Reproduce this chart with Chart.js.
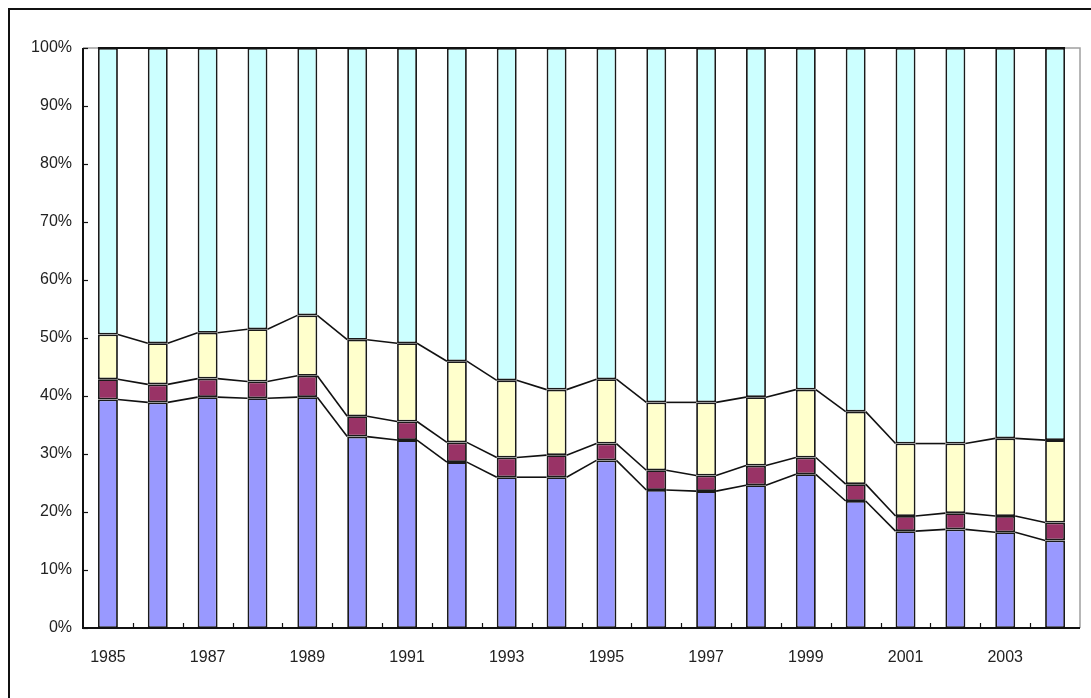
<!DOCTYPE html>
<html>
<head>
<meta charset="utf-8">
<script src="https://cdn.jsdelivr.net/npm/chart.js@4/dist/chart.umd.min.js"></script>
<style>
  html, body { margin: 0; padding: 0; background: #fff; }
  #wrap { position: relative; width: 1091px; height: 698px; overflow: hidden; }
  #frame { position: absolute; left: 8px; top: 8px; width: 1200px; height: 800px;
           border-left: 2px solid #111; border-top: 2px solid #111; }
  canvas { position: absolute; left: 0; top: 0; }
</style>
</head>
<body>
<div id="wrap">
  <div id="frame"></div>
  <canvas id="shareChart" width="1091" height="698"></canvas>
</div>
<script>
const years = ["1985", "1986", "1987", "1988", "1989", "1990", "1991", "1992", "1993", "1994",
               "1995", "1996", "1997", "1998", "1999", "2000", "2001", "2002", "2003", "2004"];

// share of each component, % of total (bottom to top)
const blueShare   = [39.4, 38.9, 39.8, 39.6, 39.8, 33.0, 32.4, 28.6, 26.0, 26.0,
                     28.9, 23.8, 23.6, 24.6, 26.5, 21.9, 16.7, 17.0, 16.5, 15.1];
const maroonShare = [3.5, 3.1, 3.2, 2.9, 3.7, 3.5, 3.2, 3.4, 3.4, 3.8,
                     2.9, 3.4, 2.7, 3.4, 2.9, 2.9, 2.6, 2.8, 2.8, 3.1];
const yellowShare = [7.7, 7.1, 7.9, 9.0, 10.4, 13.2, 13.5, 14.0, 13.3, 11.3,
                     11.1, 11.7, 12.6, 11.8, 11.7, 12.5, 12.5, 12.0, 13.4, 14.2];
const cyanShare   = [49.4, 50.9, 49.1, 48.5, 46.1, 50.3, 50.9, 54.0, 57.3, 58.9,
                     57.1, 61.1, 61.1, 60.2, 58.9, 62.7, 68.2, 68.2, 67.3, 67.6];

const yTicks = [0, 10, 20, 30, 40, 50, 60, 70, 80, 90, 100];

// excel style series lines between bar tops + inward tick marks
const seriesLines = {
  id: "seriesLines",
  afterDatasetsDraw(chart) {
    const ctx = chart.ctx;
    ctx.save();
    ctx.strokeStyle = "#111";
    ctx.lineWidth = 1.6;
    chart.data.datasets.forEach((ds, di) => {
      const bars = chart.getDatasetMeta(di).data;
      for (let i = 0; i < bars.length - 1; i++) {
        const a = bars[i], b = bars[i + 1];
        ctx.beginPath();
        ctx.moveTo(a.x + a.width / 2, a.y);
        ctx.lineTo(b.x - b.width / 2, b.y);
        ctx.stroke();
      }
    });
    ctx.restore();
  },
  afterDraw(chart) {
    const ctx = chart.ctx;
    const area = chart.chartArea;
    const x = chart.scales.x, y = chart.scales.y;
    ctx.save();
    // gray plot border (top & right)
    ctx.strokeStyle = "#a0a0a0";
    ctx.lineWidth = 1.5;
    ctx.beginPath();
    ctx.moveTo(area.left, area.top);
    ctx.lineTo(area.right, area.top);
    ctx.lineTo(area.right, area.bottom);
    ctx.stroke();
    // redraw series line at 100% over the border
    ctx.strokeStyle = "#111";
    ctx.lineWidth = 2;
    const top = chart.getDatasetMeta(chart.data.datasets.length - 1).data;
    for (let i = 0; i < top.length - 1; i++) {
      ctx.beginPath();
      ctx.moveTo(top[i].x - top[i].width / 2, top[i].y);
      ctx.lineTo(top[i + 1].x + top[i + 1].width / 2, top[i + 1].y);
      ctx.stroke();
    }
    // axes
    ctx.lineWidth = 2;
    ctx.beginPath();
    ctx.moveTo(area.left, area.top);
    ctx.lineTo(area.left, area.bottom);
    ctx.lineTo(area.right, area.bottom);
    ctx.stroke();
    ctx.lineWidth = 1.2;
    yTicks.forEach(v => {
      const py = Math.round(y.getPixelForValue(v)) + 0.5;
      ctx.beginPath();
      ctx.moveTo(area.left, py);
      ctx.lineTo(area.left + 5, py);
      ctx.stroke();
    });
    for (let i = 1; i < years.length; i++) {
      const px = Math.round((x.getPixelForValue(i - 1) + x.getPixelForValue(i)) / 2) + 0.5;
      ctx.beginPath();
      ctx.moveTo(px, area.bottom);
      ctx.lineTo(px, area.bottom - 5);
      ctx.stroke();
    }
    ctx.restore();
  }
};

function makeSet(label, data, color) {
  return {
    label: label,
    data: data,
    backgroundColor: color,
    borderColor: "#1a1a1a",
    borderWidth: 1.8,
    borderSkipped: false,
    barPercentage: 0.4,
    categoryPercentage: 1
  };
}

new Chart(document.getElementById("shareChart"), {
  type: "bar",
  data: {
    labels: years,
    datasets: [
      makeSet("blue", blueShare, "#9999ff"),
      makeSet("maroon", maroonShare, "#993366"),
      makeSet("yellow", yellowShare, "#ffffcc"),
      makeSet("cyan", cyanShare, "#ccffff")
    ]
  },
  options: {
    responsive: false,
    animation: false,
    layout: { padding: { top: 48, right: 11, left: 0, bottom: 0 } },
    plugins: { legend: { display: false }, tooltip: { enabled: false } },
    scales: {
      x: {
        stacked: true,
        grid: { display: false, drawTicks: false },
        border: { display: false },
        ticks: {
          autoSkip: false,
          maxRotation: 0,
          padding: 20,
          color: "#222",
          font: { family: "Liberation Sans", size: 16 },
          callback: (v, i) => (i % 2 === 0 ? years[i] : "")
        },
        afterFit: s => { s.height = 70; }
      },
      y: {
        stacked: true,
        min: 0,
        max: 100,
        grid: { display: false, drawTicks: false },
        border: { display: false },
        afterBuildTicks: s => { s.ticks = yTicks.map(v => ({ value: v })); },
        ticks: {
          padding: 11,
          color: "#222",
          font: { family: "Liberation Sans", size: 16 },
          callback: v => v + "%"
        },
        afterFit: s => { s.width = 83; }
      }
    }
  },
  plugins: [seriesLines]
});
</script>
</body>
</html>
